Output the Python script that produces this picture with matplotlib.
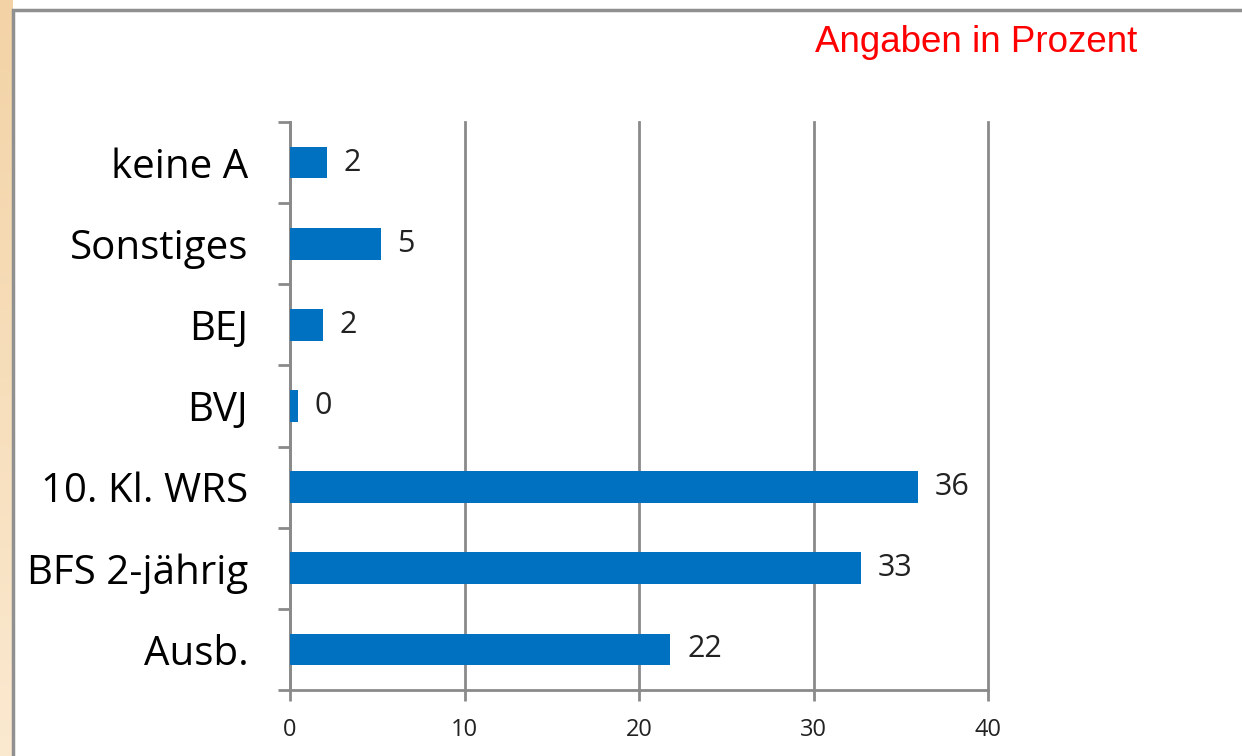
import numpy as np
import matplotlib
matplotlib.use("Agg")
import matplotlib.pyplot as plt
from matplotlib.patches import Rectangle

categories = ["Ausb.", "BFS 2-jährig", "10. Kl. WRS", "BVJ", "BEJ", "Sonstiges", "keine A"]
values = [21.8, 32.7, 36.0, 0.45, 1.9, 5.2, 2.1]
value_labels = ["22", "33", "36", "0", "2", "5", "2"]
x_ticks = [0, 10, 20, 30, 40]

grey = "#8a8a8a"
blue = "#0070c0"

fig = plt.figure(figsize=(12.42, 7.56), dpi=100)

# orange strip on the left edge
strip = fig.add_axes([0, 0, 13 / 1242, 1])
grad = np.linspace(0, 1, 256).reshape(-1, 1)
strip.imshow(grad, aspect="auto", cmap=matplotlib.colors.LinearSegmentedColormap.from_list(
    "o", ["#f3d3a6", "#fbe9d0"]), extent=[0, 1, 0, 1])
strip.axis("off")

# grey frame
fig.patches.append(Rectangle((13 / 1242, -0.05), 1.1, 1 - 10 / 756 + 0.05,
                             transform=fig.transFigure, fill=False,
                             edgecolor="#909090", linewidth=2.5))

ax = fig.add_axes([290 / 1242, 1 - 690 / 756, 698 / 1242, 568 / 756])
y = np.arange(len(categories))
ax.barh(y, values, height=0.39, color=blue, zorder=3)

ax.set_xlim(0, 40)
ax.set_ylim(-0.5, len(categories) - 0.5)
ax.set_xticks(x_ticks)
ax.set_yticks(y)
ax.set_yticklabels(categories, fontsize=29, family="Open Sans", color="black")
ax.set_yticks(np.arange(-0.5, len(categories), 1), minor=True)
ax.tick_params(axis="y", which="major", length=0, pad=30)
ax.tick_params(axis="y", which="minor", length=9, width=2, color=grey)
ax.tick_params(axis="x", length=8, width=2, color=grey, pad=12, labelsize=17, labelcolor="#222222")
for lab in ax.get_xticklabels():
    lab.set_family("Open Sans")

ax.grid(axis="x", color=grey, linewidth=2, zorder=0)
for gl in ax.get_xgridlines():
    gl.set_clip_on(False)
for s in ["top", "right"]:
    ax.spines[s].set_visible(False)
for s in ["left", "bottom"]:
    ax.spines[s].set_color(grey)
    ax.spines[s].set_linewidth(2)

for yi, v, lab in zip(y, values, value_labels):
    ax.annotate(lab, (v, yi), xytext=(12, 0), textcoords="offset points",
                va="center", ha="left", fontsize=22, family="Open Sans", color="#222222")

fig.text(1137 / 1242, 1 - 42 / 756, "Angaben in Prozent", color="red", fontsize=26.5,
         family="Liberation Sans", ha="right", va="center")

fig.savefig("out.png", dpi=100)
